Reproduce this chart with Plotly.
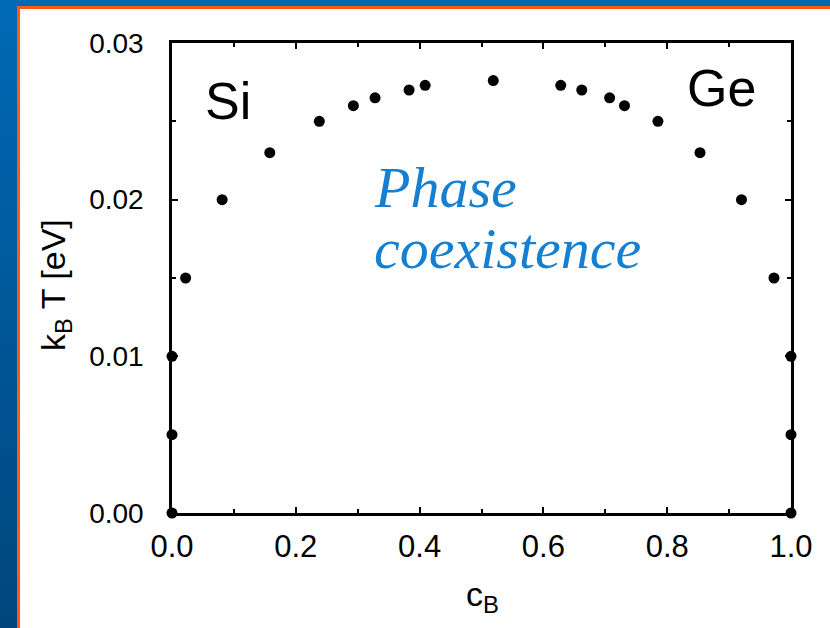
import plotly.graph_objects as go

# Data
c_B = [0.0, 0.0, 0.0, 0.022, 0.081, 0.158, 0.238, 0.293, 0.328, 0.383, 0.409,
       0.519, 0.628, 0.662, 0.707, 0.731, 0.785, 0.853, 0.920, 0.9725, 1.0, 1.0, 1.0]
kT = [0.0, 0.005, 0.010, 0.015, 0.020, 0.023, 0.025, 0.026, 0.0265, 0.027, 0.0273,
      0.0276, 0.0273, 0.0270, 0.0265, 0.0260, 0.0250, 0.0230, 0.0200, 0.0150, 0.010, 0.005, 0.0]
x_ticks = [0.0, 0.2, 0.4, 0.6, 0.8, 1.0]
y_ticks = [0.00, 0.01, 0.02, 0.03]

W, H = 830, 628
L, R, T, B = 172, 791, 43, 513  # plot area in pixels
pw, ph = R - L, B - T

def px(x):
    return (x - L) / pw

def py(y):
    return (B - y) / ph

bg_svg = (
    "data:image/svg+xml;utf8,"
    "<svg xmlns='http://www.w3.org/2000/svg' width='830' height='628' viewBox='0 0 830 628' preserveAspectRatio='none'>"
    "<defs><linearGradient id='g' x1='0' y1='0' x2='0' y2='1'>"
    "<stop offset='0' stop-color='%230069b6'/><stop offset='1' stop-color='%2300467c'/>"
    "</linearGradient></defs>"
    "<rect x='0' y='0' width='830' height='628' fill='url(%23g)'/>"
    "<rect x='17' y='6' width='813' height='622' fill='%23ff5a10'/>"
    "<rect x='20' y='9' width='810' height='619' fill='white'/>"
    "</svg>"
)

fig = go.Figure()
fig.add_trace(go.Scatter(
    x=c_B, y=kT, mode="markers",
    marker=dict(color="black", size=11),
    cliponaxis=False, showlegend=False,
))

axis_common = dict(
    showline=True, linecolor="black", linewidth=2.5, mirror="ticks",
    ticks="inside", ticklen=6, tickwidth=2, tickcolor="black",
    showgrid=False, zeroline=False,
)

fig.update_xaxes(
    range=[0, 1], tickvals=x_ticks, ticktext=[f"{v:.1f}" for v in x_ticks],
    tickfont=dict(family="Liberation Sans, Arial", size=31, color="black"),
    ticklabelstandoff=4,
    minor=dict(dtick=0.1, ticks="inside", ticklen=4, tickcolor="black", showgrid=False),
    **axis_common,
)
fig.update_yaxes(
    range=[0, 0.03], tickvals=y_ticks, ticktext=[f"{v:.2f}" for v in y_ticks],
    tickfont=dict(family="Liberation Sans, Arial", size=28, color="black"),
    ticklabelstandoff=20,
    minor=dict(dtick=0.005, ticks="inside", ticklen=4, tickcolor="black", showgrid=False),
    **axis_common,
)

ann_font = dict(family="Liberation Sans, Arial", color="black")
blue_font = dict(family="Liberation Serif, Times New Roman, serif", size=58, color="#1580d2")

annotations = [
    dict(text="Si", x=px(228), y=py(101), font=dict(size=52, **ann_font)),
    dict(text="Ge", x=px(721), y=py(88), font=dict(size=52, **ann_font)),
    dict(text="<i>Phase</i>", x=px(372), y=py(188), xanchor="left", font=blue_font),
    dict(text="<i>coexistence</i>", x=px(372), y=py(249), xanchor="left", font=blue_font),
    dict(text="c<sub>B</sub>", x=px(482), y=py(596), font=dict(size=34, **ann_font)),
    dict(text="k<sub>B</sub> T [eV]", x=px(55), y=py(285), textangle=-90,
         font=dict(size=34, **ann_font)),
]
for a in annotations:
    a.setdefault("xanchor", "center")
    a.setdefault("yanchor", "middle")
    a.update(xref="paper", yref="paper", showarrow=False)

fig.update_layout(
    width=W, height=H,
    margin=dict(l=L, r=W - R, t=T, b=H - B, pad=0),
    paper_bgcolor="white", plot_bgcolor="rgba(0,0,0,0)",
    annotations=annotations,
    images=[dict(source=bg_svg, xref="paper", yref="paper",
                 x=px(0), y=py(0), sizex=W / pw, sizey=H / ph,
                 xanchor="left", yanchor="top", sizing="stretch", layer="below")],
)

fig.write_html("out.html")
